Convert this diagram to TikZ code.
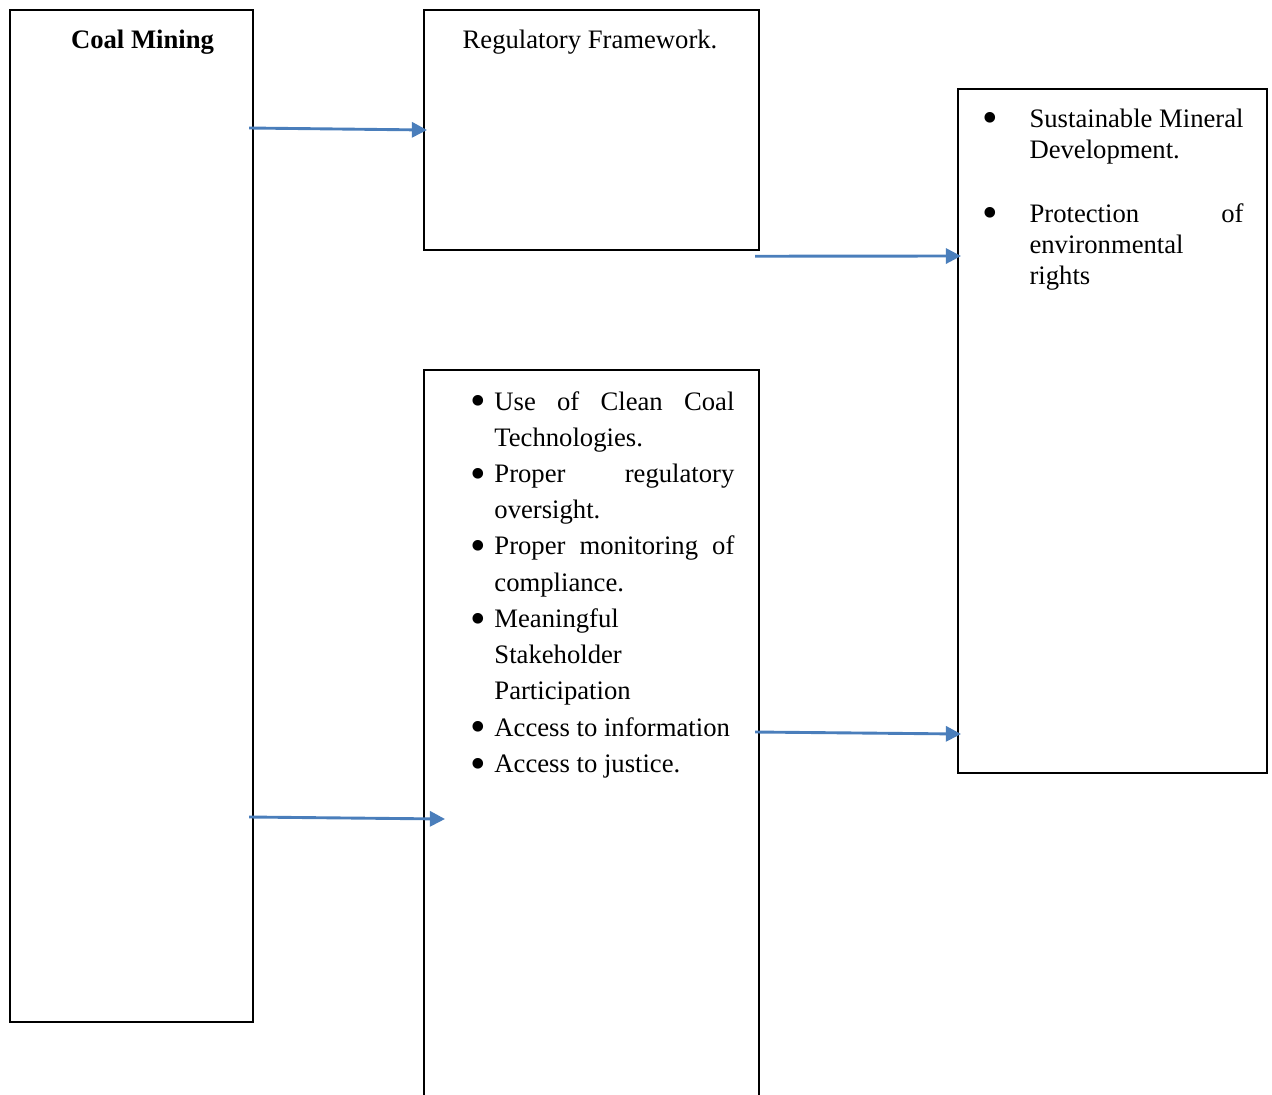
\documentclass[tikz,border=0pt]{standalone}
\usepackage{fontspec}
\setmainfont{Liberation Serif}
\usepackage{tikz}
\usetikzlibrary{arrows.meta, positioning, calc}
\usepackage{xcolor}
\definecolor{arrowblue}{HTML}{4A7EBB}
\tikzset{
  box/.style={draw=black, line width=1pt, rectangle, inner sep=0pt, anchor=north west},
  arrowline/.style={draw=arrowblue, line width=1.3pt, -{Triangle[length=6.8pt,width=6.8pt]}},
  listtext/.style={anchor=base west, inner sep=0pt, align=justify, text width=#1},
}
\newcommand{\bitem}[2]{\leavevmode\hangindent=#1\hangafter=1\hbox to #1{\smash{\raisebox{-2.6pt}{\fontsize{20}{20}\selectfont\textbullet}}\hfil}\ignorespaces#2\par}

\begin{document}
\begin{tikzpicture}[x=0.45pt, y=-0.45pt, font=\fontsize{12}{14}\selectfont]
  \clip (0,0) rectangle (1272,1094);
  % boxes
  \node[box, minimum width=243*0.45pt, minimum height=1012*0.45pt] (coal) at (9,9) {};
  \node[box, minimum width=335*0.45pt, minimum height=240*0.45pt] (reg) at (423,9) {};
  \node[box, minimum width=335*0.45pt, minimum height=760*0.45pt] (mech) at (423,369) {};
  \node[box, minimum width=309*0.45pt, minimum height=684*0.45pt] (goal) at (957,88) {};
  % texts
  \node[anchor=base, inner sep=0pt, font=\fontsize{12}{14}\selectfont\bfseries] (coaltxt) at (142.5,48) {Coal Mining};
  \node[anchor=base, inner sep=0pt] (regtxt) at (590,48) {Regulatory Framework.};
  \node[listtext=118.8pt, font=\fontsize{12}{16.3}\selectfont] (mechlist) at (470,410) {%
    \bitem{10.8pt}{Use of Clean Coal\linebreak Technologies.}
    \bitem{10.8pt}{Proper regulatory\linebreak oversight.}
    \bitem{10.8pt}{Proper monitoring of\linebreak compliance.}
    \bitem{10.8pt}{Meaningful\newline Stakeholder\newline Participation}
    \bitem{10.8pt}{Access to information}
    \bitem{10.8pt}{Access to justice.}};
  \node[listtext=117.5pt, font=\fontsize{12}{14}\selectfont] (goallist) at (982,127) {%
    \bitem{21.2pt}{Sustainable Mineral\linebreak Development.}
    \vspace{14.8pt}
    \bitem{21.2pt}{Protection of\linebreak environmental\newline rights}};
  % connectors
  \coordinate (coalout1) at ([shift={(-5,119)}]coal.north east);
  \coordinate (coalout2) at ([shift={(-5,808)}]coal.north east);
  \coordinate (regin) at ([shift={(4,121)}]reg.north west);
  \coordinate (regout) at ([shift={(-5,5)}]reg.south east);
  \coordinate (mechin) at ([shift={(22,450)}]mech.north west);
  \coordinate (mechout) at ([shift={(-5,363)}]mech.north east);
  \coordinate (goalin1) at ([shift={(4,168)}]goal.north west);
  \coordinate (goalin2) at ([shift={(4,646)}]goal.north west);
  \draw[arrowline] (coalout1) -- (regin);
  \draw[arrowline] (coalout2) -- (mechin);
  \draw[arrowline] (regout) -- (goalin1);
  \draw[arrowline] (mechout) -- (goalin2);
\end{tikzpicture}
\end{document}
